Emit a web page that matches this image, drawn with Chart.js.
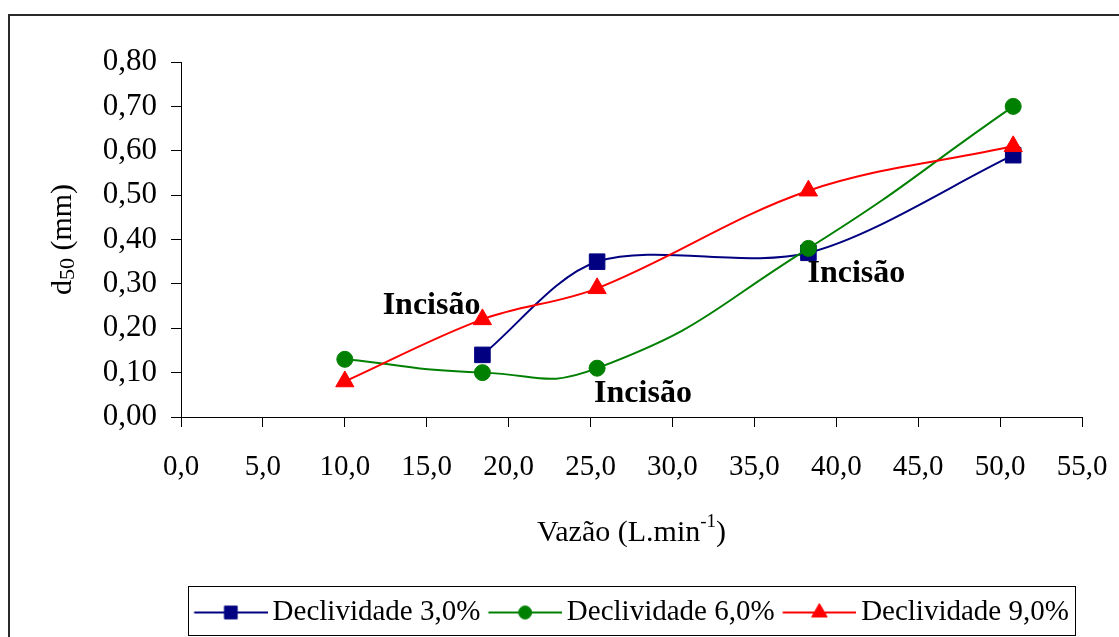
<!DOCTYPE html>
<html>
<head>
<meta charset="utf-8">
<script src="https://cdn.jsdelivr.net/npm/chart.js@4.4.1/dist/chart.umd.min.js"></script>
<style>
  html, body { margin: 0; padding: 0; background: #ffffff; }
  canvas { display: block; }
</style>
</head>
<body>
<canvas id="grafico" width="1119" height="637"></canvas>
<script>
// Vazão (L/min) de cada ensaio e d50 (mm) medido por declividade
const vazao = [10.0, 18.4, 25.4, 38.3, 50.8];
const vazaoDecl3 = [18.4, 25.4, 38.3, 50.8];
const d50Decl3 = [0.14, 0.35, 0.37, 0.59];
const d50Decl6 = [0.13, 0.10, 0.11, 0.38, 0.70];
const d50Decl9 = [0.08, 0.22, 0.29, 0.51, 0.61];
const nomesSeries = ['Declividade 3,0%', 'Declividade 6,0%', 'Declividade 9,0%'];
const rotulosX = ['0,0', '5,0', '10,0', '15,0', '20,0', '25,0', '30,0', '35,0', '40,0', '45,0', '50,0', '55,0'];
const rotulosY = ['0,00', '0,10', '0,20', '0,30', '0,40', '0,50', '0,60', '0,70', '0,80'];
const textoIncisao = 'Incisão';

const FONTE = "'Liberation Serif', 'Times New Roman', serif";
const AZUL = '#000080', VERDE = '#008000', VERMELHO = '#FF0000';

function pares(xs, ys) {
  return xs.map((x, i) => ({ x: x, y: ys[i] }));
}

// Amostra de legenda: linha com o marcador no meio
function amostraLegenda(cor, estilo, raio) {
  const caixa = 64, visivel = 73.5;
  const largura = 2 * visivel - caixa;
  const c = document.createElement('canvas');
  c.width = Math.round(largura);
  c.height = 26;
  const ctx = c.getContext('2d');
  const x0 = visivel - caixa;
  ctx.strokeStyle = cor;
  ctx.lineWidth = 2;
  ctx.beginPath();
  ctx.moveTo(x0, 13);
  ctx.lineTo(x0 + visivel, 13);
  ctx.stroke();
  ctx.fillStyle = cor;
  ctx.lineWidth = 1;
  Chart.helpers.drawPoint(ctx, { pointStyle: estilo, radius: raio, rotation: 0, borderWidth: 1 }, x0 + visivel / 2, 13);
  return c;
}

const amostras = [
  amostraLegenda(AZUL, 'rect', 9),
  amostraLegenda(VERDE, 'circle', 6.5),
  amostraLegenda(VERMELHO, 'triangle', 9)
];

// Moldura externa, caixa da legenda, títulos dos eixos e anotações
const decoracao = {
  id: 'decoracao',
  afterDatasetsDraw(chart, args, opts) {
    const ctx = chart.ctx;
    ctx.save();
    ctx.fillStyle = '#000';
    ctx.font = 'bold 32px ' + FONTE;
    ctx.textBaseline = 'alphabetic';
    opts.anotacoes.forEach(a => {
      const p = chart.getDatasetMeta(a.serie).data[a.ponto];
      ctx.textAlign = a.alinhar;
      ctx.fillText(a.texto, p.x + a.dx, p.y + a.dy);
    });
    ctx.restore();
  },
  afterDraw(chart) {
    const ctx = chart.ctx;
    const area = chart.chartArea;
    ctx.save();

    // moldura
    ctx.strokeStyle = '#2a2a2a';
    ctx.lineWidth = 2;
    ctx.strokeRect(9, 15, 1400, 1000);

    // caixa da legenda
    const lg = chart.legend;
    const hb = lg.legendHitBoxes;
    const esq = hb[0].left - 6;
    const dir = hb[hb.length - 1].left + hb[hb.length - 1].width + 6;
    ctx.strokeStyle = '#000';
    ctx.lineWidth = 1;
    ctx.strokeRect(Math.round(esq) + 0.5, Math.round(lg.top) - 3.5, Math.round(dir - esq), Math.round(lg.bottom - lg.top) + 2);

    ctx.fillStyle = '#000';
    ctx.textBaseline = 'alphabetic';

    // título do eixo X com expoente
    const fN = '30px ' + FONTE, fS = '19px ' + FONTE;
    const parte1 = 'Vazão (L.min', sup = '-1', parte2 = ')';
    ctx.font = fN;
    const w1 = ctx.measureText(parte1).width, w3 = ctx.measureText(parte2).width;
    ctx.font = fS;
    const w2 = ctx.measureText(sup).width;
    let x = (area.left + area.right) / 2 - (w1 + w2 + w3) / 2;
    const yb = 541;
    ctx.textAlign = 'left';
    ctx.font = fN; ctx.fillText(parte1, x, yb); x += w1;
    ctx.font = fS; ctx.fillText(sup, x, yb - 14); x += w2;
    ctx.font = fN; ctx.fillText(parte2, x, yb);

    // título do eixo Y com subscrito
    const a1 = 'd', sub = '50', a3 = ' (mm)';
    ctx.font = fN;
    const v1 = ctx.measureText(a1).width, v3 = ctx.measureText(a3).width;
    ctx.font = '22px ' + FONTE;
    const v2 = ctx.measureText(sub).width;
    ctx.translate(71, (area.top + area.bottom) / 2);
    ctx.rotate(-Math.PI / 2);
    let t = -(v1 + v2 + v3) / 2;
    ctx.font = fN; ctx.fillText(a1, t, 0); t += v1;
    ctx.font = '22px ' + FONTE; ctx.fillText(sub, t, 3); t += v2;
    ctx.font = fN; ctx.fillText(a3, t, 0);
    ctx.restore();
  }
};

function serie(i, xs, ys, cor, estilo, raio, ordem, tensao) {
  return {
    label: nomesSeries[i],
    data: pares(xs, ys),
    showLine: true,
    tension: tensao,
    borderColor: cor,
    backgroundColor: cor,
    borderWidth: 2,
    pointStyle: estilo,
    pointRadius: raio,
    pointHoverRadius: raio,
    pointBorderWidth: 1,
    pointBorderColor: cor,
    pointBackgroundColor: cor,
    order: ordem,
    clip: false
  };
}

new Chart(document.getElementById('grafico'), {
  type: 'scatter',
  data: {
    datasets: [
      serie(0, vazaoDecl3, d50Decl3, AZUL, 'rect', 11, 3, 0.3),
      serie(1, vazao, d50Decl6, VERDE, 'circle', 8, 2, 0.5),
      serie(2, vazao, d50Decl9, VERMELHO, 'triangle', 10.5, 1, 0.35)
    ]
  },
  options: {
    responsive: false,
    animation: false,
    devicePixelRatio: 1,
    events: [],
    layout: { padding: { top: 62, left: 9, right: 37, bottom: 0 } },
    scales: {
      x: {
        type: 'linear',
        min: 0,
        max: 55,
        afterFit(scale) { scale.height = 173; },
        border: { display: true, color: '#000', width: 1 },
        grid: { drawOnChartArea: false, drawTicks: true, tickLength: 10, color: '#000', lineWidth: 1 },
        ticks: {
          stepSize: 5,
          padding: 8,
          color: '#000',
          font: { family: FONTE, size: 29, lineHeight: 2.2 },
          maxRotation: 0,
          autoSkip: false,
          callback: (v, i) => rotulosX[i]
        }
      },
      y: {
        type: 'linear',
        min: 0,
        max: 0.8,
        afterFit(scale) { scale.width = 172; },
        border: { display: true, color: '#000', width: 1 },
        grid: { drawOnChartArea: false, drawTicks: true, tickLength: 10, color: '#000', lineWidth: 1 },
        ticks: {
          stepSize: 0.1,
          padding: 14,
          color: '#000',
          font: { family: FONTE, size: 31 },
          autoSkip: false,
          callback: (v, i) => rotulosY[i]
        }
      }
    },
    plugins: {
      tooltip: { enabled: false },
      legend: {
        position: 'bottom',
        fullSize: false,
        labels: {
          usePointStyle: true,
          pointStyleWidth: 64,
          padding: 8,
          color: '#000',
          font: { family: FONTE, size: 29 },
          sort: (a, b) => a.datasetIndex - b.datasetIndex,
          generateLabels: (chart) => chart.data.datasets.map((ds, i) => ({
            text: ds.label,
            datasetIndex: i,
            pointStyle: amostras[i],
            fillStyle: ds.borderColor,
            strokeStyle: ds.borderColor,
            lineWidth: 0,
            hidden: false,
            fontColor: '#000'
          }))
        }
      },
      decoracao: {
        anotacoes: [
          { texto: textoIncisao, serie: 2, ponto: 1, dx: -2, dy: -5, alinhar: 'right' },
          { texto: textoIncisao, serie: 1, ponto: 2, dx: -3, dy: 34, alinhar: 'left' },
          { texto: textoIncisao, serie: 0, ponto: 2, dx: -1, dy: 29, alinhar: 'left' }
        ]
      }
    }
  },
  plugins: [decoracao]
});
</script>
</body>
</html>
